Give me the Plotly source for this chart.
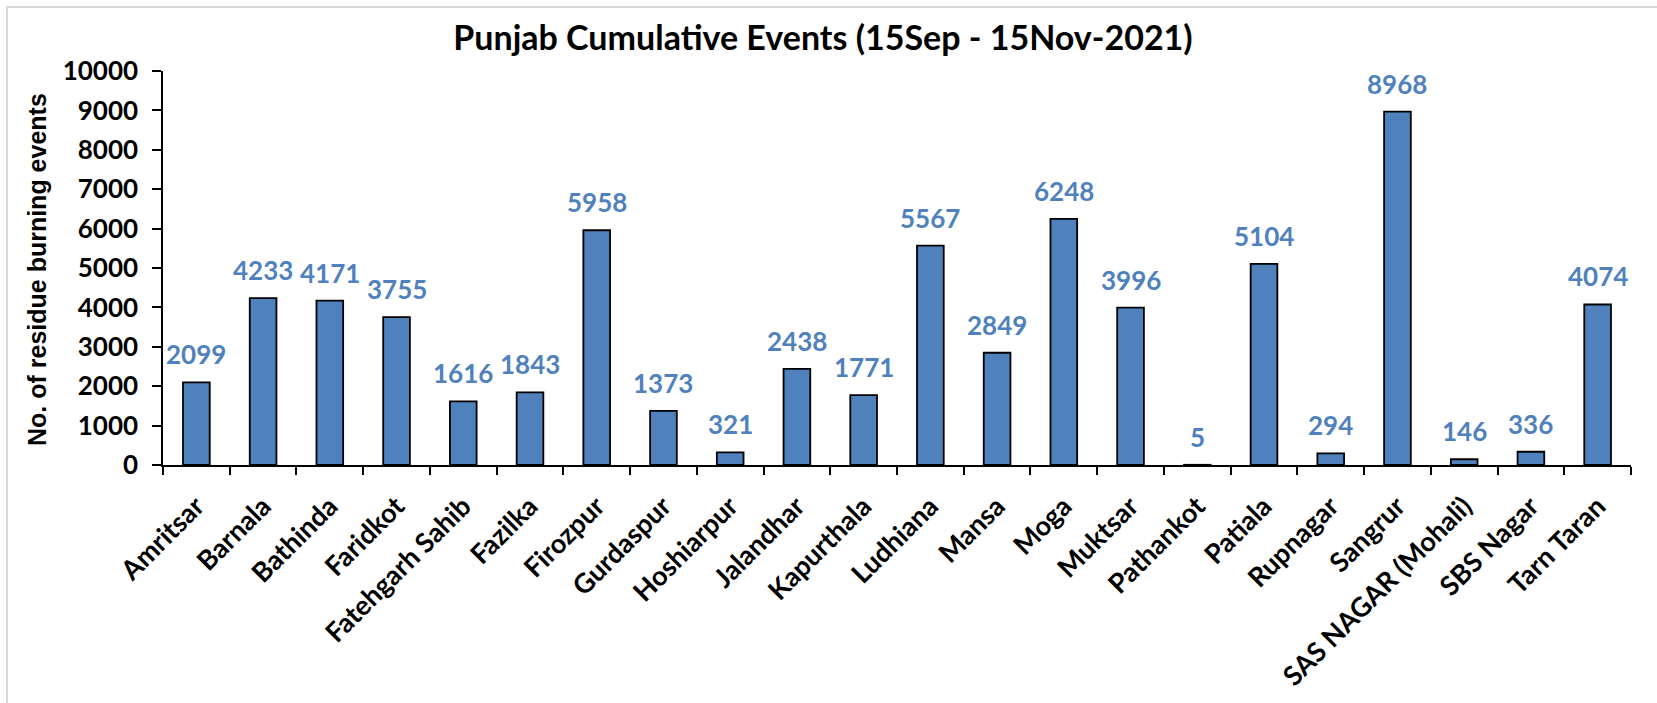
import plotly.graph_objects as go

districts = ["Amritsar", "Barnala", "Bathinda", "Faridkot", "Fatehgarh Sahib", "Fazilka",
             "Firozpur", "Gurdaspur", "Hoshiarpur", "Jalandhar", "Kapurthala", "Ludhiana",
             "Mansa", "Moga", "Muktsar", "Pathankot", "Patiala", "Rupnagar", "Sangrur",
             "SAS NAGAR (Mohali)", "SBS Nagar", "Tarn Taran"]
events = [2099, 4233, 4171, 3755, 1616, 1843, 5958, 1373, 321, 2438, 1771, 5567,
          2849, 6248, 3996, 5, 5104, 294, 8968, 146, 336, 4074]
y_ticks = [0, 1000, 2000, 3000, 4000, 5000, 6000, 7000, 8000, 9000, 10000]

title_text = "Punjab Cumulative Events (15Sep - 15Nov-2021)"
y_title = "No. of residue burning events"

BAR = "#4F81BD"
FONT = "Lato"

W, H = 1657, 703
L, R, T, B = 163, 1631, 71, 465

fig = go.Figure()
fig.add_trace(go.Bar(
    x=districts, y=events,
    marker=dict(color=BAR, line=dict(color="black", width=1.8)),
    width=0.40,
))

for d, v in zip(districts, events):
    fig.add_annotation(x=d, y=v, text=f"<b>{v}</b>", showarrow=False,
                       yanchor="bottom", yshift=10,
                       font=dict(family=FONT, size=26, color=BAR))

def px_x(p):
    return (p - L) / (R - L)

def px_y(p):
    return (B - p) / (B - T)

fig.add_shape(type="rect", xref="paper", yref="paper",
              x0=px_x(7), x1=px_x(1700), y0=px_y(760), y1=px_y(7),
              line=dict(color="#d9d9d9", width=2), layer="below")

fig.add_annotation(xref="paper", yref="paper", x=px_x(37), y=px_y(270),
                   text=f"<b>{y_title}</b>", textangle=-90, showarrow=False,
                   xanchor="center", yanchor="middle",
                   font=dict(family="Liberation Sans", size=25, color="black"))

fig.update_layout(
    width=W, height=H,
    margin=dict(l=L, r=W - R, t=T, b=H - B, pad=0),
    paper_bgcolor="white", plot_bgcolor="white",
    showlegend=False,
    title=dict(text=f"<b>{title_text}</b>", x=px_x(823), xref="paper", xanchor="center",
               y=1 - 38 / H, yanchor="middle",
               font=dict(family=FONT, size=34, color="black")),
    xaxis=dict(
        tickangle=-45, tickfont=dict(family=FONT, size=27, color="black"),
        showline=True, linecolor="black", linewidth=1.5,
        ticks="outside", tickson="boundaries", ticklen=8, tickcolor="black", tickwidth=1.5,
        ticklabelstandoff=13,
        showgrid=False, range=[-0.5, len(districts) - 0.5],
        tickprefix="<b>", ticksuffix="</b>",
    ),
    yaxis=dict(
        range=[0, 10000], tickvals=y_ticks,
        ticktext=[f"<b>{t}</b>" for t in y_ticks],
        tickfont=dict(family=FONT, size=26, color="black"),
        showline=True, linecolor="black", linewidth=1.5,
        ticks="outside", ticklen=9, tickcolor="black", tickwidth=1.5,
        ticklabelstandoff=9,
        showgrid=False, zeroline=False,
    ),
)

fig.write_html("out.html", config={"displayModeBar": False},
               post_script="document.body.style.margin='0';")
